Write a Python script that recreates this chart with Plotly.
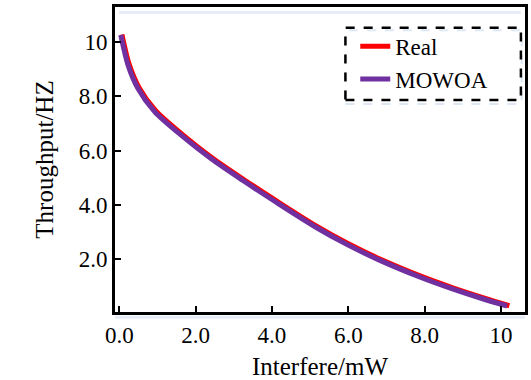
import plotly.graph_objects as go

# Data
interfere_mowoa = [0.04, 0.23, 0.49, 0.93, 1.62, 2.40, 3.23, 4.10, 5.14, 5.96, 6.83, 7.87, 8.69, 9.56, 10.16]
throughput_mowoa = [10.26, 9.15, 8.29, 7.43, 6.57, 5.71, 4.91, 4.11, 3.19, 2.55, 1.96, 1.35, 0.93, 0.53, 0.28]

interfere_real = [0.07, 0.26, 0.52, 0.96, 1.65, 2.43, 3.26, 4.13, 5.17, 5.99, 6.86, 7.90, 8.72, 9.59, 10.22]
throughput_real = [10.28, 9.18, 8.32, 7.46, 6.60, 5.74, 4.94, 4.14, 3.22, 2.58, 1.99, 1.38, 0.96, 0.56, 0.29]

x_ticks = [0, 2, 4, 6, 8, 10]
x_tick_labels = ["0.0", "2.0", "4.0", "6.0", "8.0", "10"]
y_ticks = [2, 4, 6, 8, 10]
y_tick_labels = ["2.0", "4.0", "6.0", "8.0", "10"]

FONT = "Times New Roman, Liberation Serif, serif"

fig = go.Figure()
fig.add_trace(go.Scatter(x=interfere_real, y=throughput_real, mode="lines", name="Real",
                         line=dict(color="#ff0000", width=5, shape="spline", smoothing=0.8)))
fig.add_trace(go.Scatter(x=interfere_mowoa, y=throughput_mowoa, mode="lines", name="MOWOA",
                         line=dict(color="#7030a0", width=5, shape="spline", smoothing=0.8)))

axis_common = dict(showgrid=False, zeroline=False, showline=True, linecolor="black", linewidth=3,
                   mirror=True, ticks="inside", ticklen=6, tickwidth=2, tickcolor="black",
                   tickfont=dict(family=FONT, size=23, color="black"))

fig.update_xaxes(range=[-0.112, 10.63], tickvals=x_ticks, ticktext=x_tick_labels,
                 title=dict(text="Interfere/mW", font=dict(family=FONT, size=25, color="black"), standoff=11),
                 **axis_common)
fig.update_yaxes(range=[0.06, 11.29], tickvals=y_ticks, ticktext=y_tick_labels,
                 title=dict(text="Throughput/HZ", font=dict(family=FONT, size=25, color="black"), standoff=18),
                 **axis_common)

# faint light-blue artifacts along the frame and legend
fig.add_shape(type="line", xref="paper", yref="paper", x0=0.01, x1=0.99, y0=0.982, y1=0.982,
              line=dict(color="#e6edf6", width=3), layer="below")
fig.add_shape(type="line", xref="paper", yref="paper", x0=0.0, x1=1.0, y0=-0.017, y1=-0.017,
              line=dict(color="#e6edf6", width=3), layer="below")
fig.add_shape(type="rect", xref="paper", yref="paper", x0=0.562, x1=0.992, y0=0.682, y1=0.924,
              line=dict(color="#dde8f4", width=2, dash="dash"), layer="below")
# dashed legend frame
fig.add_shape(type="rect", xref="paper", yref="paper", x0=0.562, x1=0.990, y0=0.695, y1=0.932,
              line=dict(color="black", width=2.5, dash="dash"))

fig.update_layout(
    width=531, height=380,
    margin=dict(l=115, r=3, t=7, b=68),
    plot_bgcolor="white", paper_bgcolor="white",
    font=dict(family=FONT, color="black"),
    legend=dict(x=0.586, y=0.942, xanchor="left", yanchor="top", bgcolor="rgba(0,0,0,0)",
                borderwidth=0, font=dict(family=FONT, size=23, color="black"),
                itemwidth=30, tracegroupgap=0),
    showlegend=True,
)

fig.write_html("out.html")
